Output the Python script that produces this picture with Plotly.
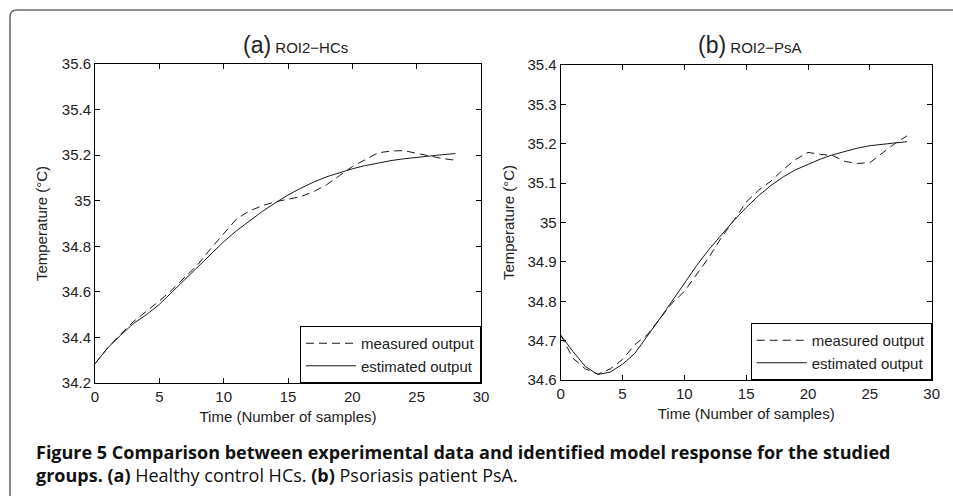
import plotly.graph_objects as go

W, H = 953, 496

# ---------------- data ----------------
samples = list(range(29))

hcs_measured = [34.285, 34.355, 34.415, 34.47, 34.515, 34.56, 34.61, 34.665, 34.72, 34.79,
                34.855, 34.92, 34.955, 34.978, 34.995, 35.005, 35.018, 35.04, 35.07, 35.11,
                35.15, 35.18, 35.21, 35.218, 35.22, 35.208, 35.195, 35.185, 35.178]
hcs_estimated = [34.285, 34.355, 34.41, 34.462, 34.50, 34.545, 34.60, 34.655, 34.71, 34.765,
                 34.82, 34.868, 34.912, 34.953, 34.99, 35.025, 35.055, 35.082, 35.105, 35.124,
                 35.14, 35.154, 35.166, 35.176, 35.184, 35.191, 35.197, 35.202, 35.207]

psa_measured = [34.714, 34.655, 34.628, 34.615, 34.628, 34.652, 34.69, 34.715, 34.755, 34.795,
                34.825, 34.868, 34.912, 34.962, 35.005, 35.052, 35.082, 35.105, 35.135, 35.16,
                35.178, 35.173, 35.17, 35.155, 35.15, 35.152, 35.175, 35.2, 35.22]
psa_estimated = [34.714, 34.672, 34.634, 34.614, 34.62, 34.64, 34.668, 34.71, 34.755, 34.80,
                 34.847, 34.891, 34.932, 34.97, 35.005, 35.038, 35.068, 35.094, 35.116, 35.134,
                 35.148, 35.161, 35.172, 35.181, 35.189, 35.195, 35.199, 35.202, 35.205]

x_ticks = [0, 5, 10, 15, 20, 25, 30]
hcs_y_ticks = [34.2, 34.4, 34.6, 34.8, 35.0, 35.2, 35.4, 35.6]
psa_y_ticks = [34.6, 34.7, 34.8, 34.9, 35.0, 35.1, 35.2, 35.3, 35.4]

series_names = ["measured output", "estimated output"]
panel_titles = ["(a)", "(b)"]
panel_subtitles = ["ROI2\u2212HCs", "ROI2\u2212PsA"]
x_title = "Time (Number of samples)"
y_title = "Temperature (\u00b0C)"
caption_bold = "Figure 5 Comparison between experimental data and identified model response for the studied"
caption_line2 = "<b>groups. (a)</b> Healthy control HCs. <b>(b)</b> Psoriasis patient PsA."

# ---------------- layout helpers ----------------
def px_x(p):
    return p / W

def px_y(p):
    return 1 - p / H

FONT = "Liberation Sans, Arial, Helvetica, sans-serif"
LINE = "#1a1a1a"

fig = go.Figure()

panels = [
    dict(meas=hcs_measured, est=hcs_estimated, xa="x", ya="y", legend="legend"),
    dict(meas=psa_measured, est=psa_estimated, xa="x2", ya="y2", legend="legend2"),
]
for p in panels:
    fig.add_trace(go.Scatter(x=samples, y=p["meas"], mode="lines", name=series_names[0],
                             line=dict(color=LINE, width=1, dash="8px,5px"),
                             xaxis=p["xa"], yaxis=p["ya"], legend=p["legend"]))
    fig.add_trace(go.Scatter(x=samples, y=p["est"], mode="lines", name=series_names[1],
                             line=dict(color=LINE, width=1),
                             xaxis=p["xa"], yaxis=p["ya"], legend=p["legend"]))

axis_common = dict(showline=True, linecolor="black", linewidth=1, mirror="ticks",
                   ticks="inside", ticklen=5, tickcolor="black", showgrid=False,
                   zeroline=False, automargin=False,
                   tickfont=dict(family=FONT, size=15, color="#222"))

legend_common = dict(xanchor="right", yanchor="bottom", bgcolor="white",
                     bordercolor="black", borderwidth=1, itemwidth=50,
                     font=dict(family=FONT, size=15, color="#222"), tracegroupgap=0)

fig.update_layout(
    template="none",
    width=W, height=H, autosize=False,
    margin=dict(l=0, r=0, t=0, b=0, pad=0),
    paper_bgcolor="white", plot_bgcolor="white",
    font=dict(family=FONT, size=15, color="#222"),
    showlegend=True,
    xaxis=dict(domain=[px_x(95), px_x(481)], range=[0, 30], tickvals=x_ticks,
               anchor="y",
               title=dict(text=x_title, standoff=7, font=dict(family=FONT, size=15)),
               **axis_common),
    yaxis=dict(domain=[px_y(383), px_y(64)], range=[34.2, 35.6], tickvals=hcs_y_ticks,
               anchor="x",
               title=dict(text=y_title, standoff=10, font=dict(family=FONT, size=15)),
               **axis_common),
    xaxis2=dict(domain=[px_x(560.7), px_x(931.7)], range=[0, 30], tickvals=x_ticks,
                anchor="y2",
                title=dict(text=x_title, standoff=7, font=dict(family=FONT, size=15)),
                **axis_common),
    yaxis2=dict(domain=[px_y(380), px_y(65)], range=[34.6, 35.4], tickvals=psa_y_ticks,
                anchor="x2",
                title=dict(text=y_title, standoff=9, font=dict(family=FONT, size=15)),
                **axis_common),
    legend=dict(x=px_x(481), y=px_y(383), **legend_common),
    legend2=dict(x=px_x(931.7), y=px_y(380), **legend_common),
)

# panel titles
for cx, t, s in [(295, panel_titles[0], panel_subtitles[0]), (750, panel_titles[1], panel_subtitles[1])]:
    fig.add_annotation(x=px_x(cx), y=px_y(60), xref="paper", yref="paper",
                       xanchor="center", yanchor="bottom", showarrow=False,
                       text=f"<span style='font-size:23px'>{t}</span> {s}",
                       font=dict(family=FONT, size=15, color="#222"))

# caption (single two-line block)
CAP_FONT = "Open Sans, Noto Sans, sans-serif"
fig.add_annotation(x=px_x(34), y=px_y(463), xref="paper", yref="paper",
                   xanchor="left", yanchor="middle", align="left", showarrow=False,
                   text=f"<b>{caption_bold}</b><br>{caption_line2}",
                   font=dict(family=CAP_FONT, size=18, color="#111"))

# outer rounded frame
r = 7
path = (f"M {px_x(10)},{px_y(520)} L {px_x(10)},{px_y(10 + r)} "
        f"Q {px_x(10)},{px_y(10)} {px_x(10 + r)},{px_y(10)} L {px_x(980)},{px_y(10)}")
fig.add_shape(type="path", path=path, xref="paper", yref="paper",
              line=dict(color="#6e6e6e", width=1.6))

fig.write_html("out.html", config={"responsive": False, "displayModeBar": False},
               post_script="document.body.style.margin='0';document.body.style.overflow='hidden';")
